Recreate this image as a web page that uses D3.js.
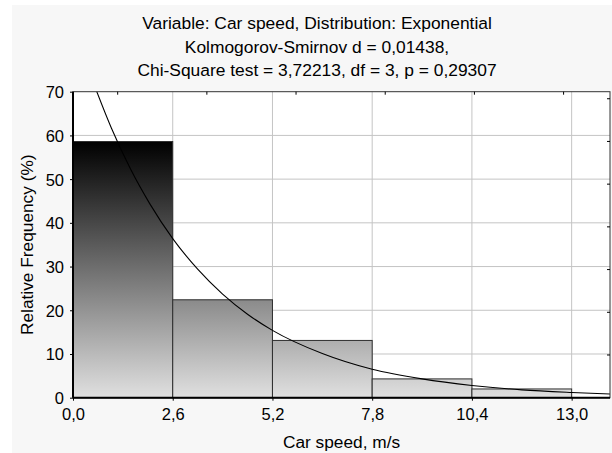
<!DOCTYPE html>
<html>
<head>
<meta charset="utf-8">
<script src="https://cdn.jsdelivr.net/npm/d3@7"></script>
<style>
  html, body { margin: 0; padding: 0; background: #fff; }
  text { font-family: Arial, "Liberation Sans", sans-serif; fill: #000; }
</style>
</head>
<body>
<div id="chart"></div>
<script>
(function() {
  // histogram bins (m/s) and relative frequency (%)
  let binStarts = [0, 2.6, 5.2, 7.8, 10.4]
  let binWidth = 2.6
  let freqs = [58.6, 22.4, 13.1, 4.3, 2.0]

  // fitted exponential curve
  let curveX = [0.55, 1.0, 1.5, 2.0, 2.6, 3.25, 3.9, 4.55, 5.2, 6.5, 7.8, 9.1, 10.4, 11.7, 13.0, 14.0]
  let curveY = [71.6, 61.7, 52.3, 44.4, 36.4, 29.4, 23.7, 19.1, 15.4, 10.1, 6.5, 4.3, 2.8, 1.8, 1.2, 0.85]

  let xTicks = [0, 2.6, 5.2, 7.8, 10.4, 13.0]
  let yTicks = [0, 10, 20, 30, 40, 50, 60, 70]
  let topTicks = [1.165, 3.49, 5.815, 8.14, 10.465, 12.79]
  let rightTicks = [9.77, 19.54, 29.31, 39.08, 48.85, 58.62, 68.39]

  let titleLines = [
    'Variable: Car speed, Distribution: Exponential',
    'Kolmogorov-Smirnov d = 0,01438,',
    'Chi-Square test = 3,72213, df = 3, p = 0,29307'
  ]

  let width = 612,
  height = 453
  let left = 73, right = 610, top = 91.7, bottom = 397.7

  let svg = d3.select('#chart')
    .append('svg')
    .attr('width', width)
    .attr('height', height)

  let fmt = (d) => d3.format('.1f')(d).replace('.', ',')

  let x = d3.scaleLinear().domain([0, 14]).range([left, right])
  let y = d3.scaleLinear().domain([0, 70]).range([bottom, top])

  // grey panel
  svg.append('rect')
    .attr('x', 12).attr('y', 5)
    .attr('width', width - 12).attr('height', height - 5)
    .attr('fill', '#f7f7f7')

  // plot area
  svg.append('rect')
    .attr('x', left).attr('y', top)
    .attr('width', right - left).attr('height', bottom - top)
    .attr('fill', '#fff')

  let defs = svg.append('defs')
  let grad = defs.append('linearGradient')
    .attr('id', 'barfill')
    .attr('gradientUnits', 'userSpaceOnUse')
    .attr('x1', 0).attr('x2', 0)
    .attr('y1', y(d3.max(freqs))).attr('y2', y(0))
  grad.append('stop').attr('offset', 0).attr('stop-color', '#000')
  grad.append('stop').attr('offset', 1).attr('stop-color', '#e0e0e0')

  defs.append('clipPath').attr('id', 'plotclip')
    .append('rect')
    .attr('x', left).attr('y', top)
    .attr('width', right - left).attr('height', bottom - top)

  // grid
  svg.selectAll('.vgrid')
    .data(xTicks.slice(1))
    .enter()
    .append('line')
    .attr('x1', (d) => x(d)).attr('x2', (d) => x(d))
    .attr('y1', top).attr('y2', bottom)
    .attr('stroke', '#c4c4c4')
    .attr('stroke-width', 1)

  svg.selectAll('.hgrid')
    .data(yTicks.slice(1, -1))
    .enter()
    .append('line')
    .attr('x1', left).attr('x2', right)
    .attr('y1', (d) => y(d)).attr('y2', (d) => y(d))
    .attr('stroke', '#c4c4c4')
    .attr('stroke-width', 1)

  // bars
  svg.selectAll('.bar')
    .data(freqs)
    .enter()
    .append('rect')
    .attr('class', 'bar')
    .attr('x', (d, i) => x(binStarts[i]))
    .attr('width', (d, i) => x(binStarts[i] + binWidth) - x(binStarts[i]))
    .attr('y', (d) => y(d))
    .attr('height', (d) => y(0) - y(d))
    .attr('fill', 'url(#barfill)')
    .attr('stroke', '#2e2e2e')
    .attr('stroke-width', 1)

  // fitted curve
  let line = d3.line()
    .x((d, i) => x(curveX[i]))
    .y((d) => y(d))
    .curve(d3.curveMonotoneX)

  svg.append('path')
    .datum(curveY)
    .attr('d', line)
    .attr('fill', 'none')
    .attr('stroke', '#000')
    .attr('stroke-width', 1.1)
    .attr('clip-path', 'url(#plotclip)')

  // frame
  svg.append('rect')
    .attr('x', left).attr('y', top)
    .attr('width', right - left).attr('height', bottom - top)
    .attr('fill', 'none')
    .attr('stroke', '#333')
    .attr('stroke-width', 1)

  svg.append('line')
    .attr('x1', left).attr('x2', left)
    .attr('y1', top).attr('y2', bottom)
    .attr('stroke', '#000').attr('stroke-width', 2)
  svg.append('line')
    .attr('x1', left).attr('x2', right)
    .attr('y1', bottom).attr('y2', bottom)
    .attr('stroke', '#000').attr('stroke-width', 2)

  // inner ticks on top and right
  svg.selectAll('.ttick')
    .data(topTicks)
    .enter()
    .append('line')
    .attr('x1', (d) => x(d)).attr('x2', (d) => x(d))
    .attr('y1', top).attr('y2', top + 3)
    .attr('stroke', '#000')

  svg.selectAll('.rtick')
    .data(rightTicks)
    .enter()
    .append('line')
    .attr('x1', right - 3).attr('x2', right)
    .attr('y1', (d) => y(d)).attr('y2', (d) => y(d))
    .attr('stroke', '#000')

  // left axis
  let yAxis = svg.append('g')
    .attr('transform', 'translate(' + left + ',0)')
    .call(d3.axisLeft(y).tickValues(yTicks).tickSize(3).tickPadding(6).tickFormat(d3.format('d')))
  yAxis.select('.domain').remove()
  yAxis.selectAll('text')
    .style('font-size', '16.5px')
    .style('font-family', 'Arial, "Liberation Sans", sans-serif')
    .attr('dy', '0.36em')

  // bottom axis
  let xAxis = svg.append('g')
    .attr('transform', 'translate(0,' + bottom + ')')
    .call(d3.axisBottom(x).tickValues(xTicks).tickSize(3).tickPadding(6).tickFormat(fmt))
  xAxis.select('.domain').remove()
  xAxis.selectAll('text')
    .style('font-size', '16.5px')
    .style('font-family', 'Arial, "Liberation Sans", sans-serif')
    .attr('y', 0)
    .attr('dy', 22)

  // titles
  svg.selectAll('.title')
    .data(titleLines)
    .enter()
    .append('text')
    .attr('x', 317)
    .attr('y', (d, i) => 29 + i * 23.5)
    .attr('text-anchor', 'middle')
    .style('font-size', '17.4px')
    .text((d) => d)

  svg.append('text')
    .attr('x', (left + right) / 2)
    .attr('y', 448)
    .attr('text-anchor', 'middle')
    .style('font-size', '17.3px')
    .text('Car speed, m/s')

  svg.append('text')
    .attr('transform', 'translate(32.5,' + (top + bottom) / 2 + ') rotate(-90)')
    .attr('text-anchor', 'middle')
    .style('font-size', '17.3px')
    .text('Relative Frequency (%)')
})()
</script>
</body>
</html>
